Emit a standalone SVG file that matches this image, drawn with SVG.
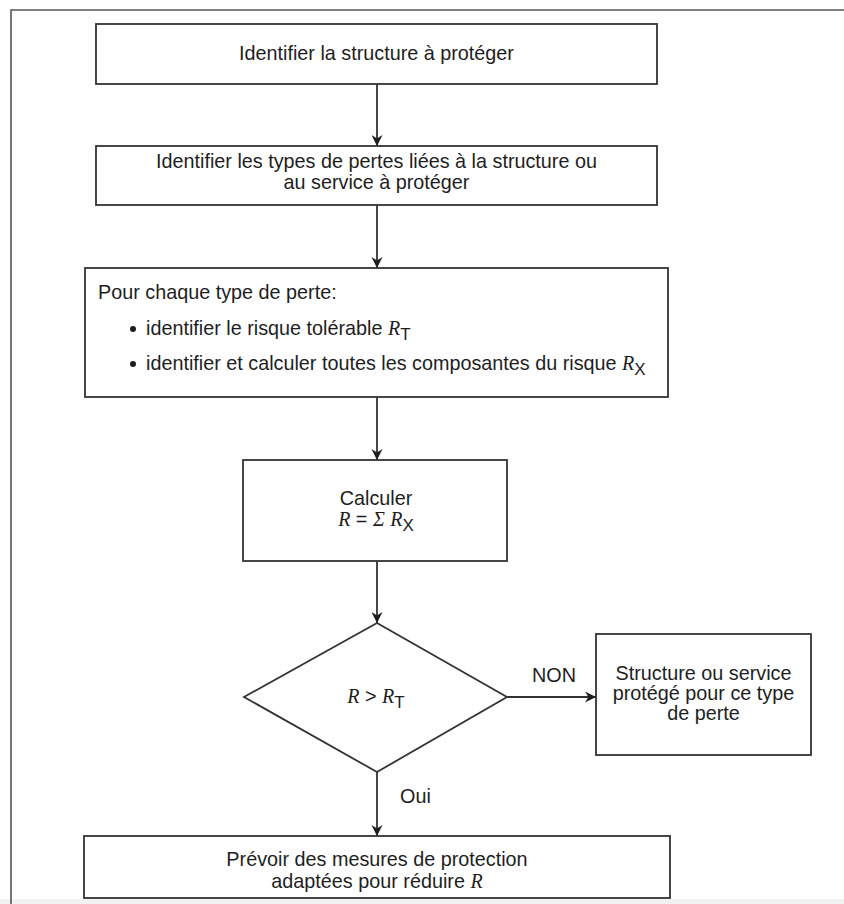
<svg xmlns="http://www.w3.org/2000/svg" width="844" height="904" viewBox="0 0 844 904">
<defs>
<style>
.box{fill:#fff;stroke:#333;stroke-width:1.8}
.t{font-family:"Liberation Sans",Arial,sans-serif;font-size:19.8px;fill:#1e1e1e}
.c{text-anchor:middle}
.m{font-family:"Liberation Serif","Times New Roman",serif;font-style:italic;font-size:20px}
.s{font-family:"Liberation Sans",Arial,sans-serif;font-style:normal;font-size:17px}
.edge{stroke:#333;stroke-width:1.8;fill:none;marker-end:url(#arr)}
</style>
<marker id="arr" viewBox="0 0 11 11" refX="11" refY="5.5" markerWidth="11" markerHeight="11" markerUnits="userSpaceOnUse" orient="auto">
<path d="M0,0 L11,5.5 L0,11 L3.5,5.5 Z" fill="#1e1e1e"/>
</marker>
</defs>
<rect x="0" y="0" width="844" height="904" fill="#fff"/>
<rect x="0" y="899" width="844" height="5" fill="#f2f2f2"/>
<path d="M11,904 V10 H844" fill="none" stroke="#555" stroke-width="1.6"/>

<g id="connectors">
<line class="edge" x1="377" y1="84" x2="377" y2="146"/>
<line class="edge" x1="377" y1="205" x2="377" y2="268"/>
<line class="edge" x1="377" y1="397" x2="377" y2="460"/>
<line class="edge" x1="377" y1="561" x2="377" y2="623"/>
<line class="edge" x1="377" y1="772" x2="377" y2="836"/>
<line class="edge" x1="507" y1="697" x2="596" y2="697"/>
<text class="t" x="532" y="682" font-size="18">NON</text>
<text class="t" x="400" y="803" font-size="18">Oui</text>
</g>

<g id="n1">
<rect class="box" x="96" y="24" width="561" height="60"/>
<text class="t c" x="376.5" y="60">Identifier la structure à protéger</text>
</g>

<g id="n2">
<rect class="box" x="96" y="146" width="561" height="59"/>
<text class="t c" x="376.5" y="168">Identifier les types de pertes liées à la structure ou</text>
<text class="t c" x="376.5" y="189">au service à protéger</text>
</g>

<g id="n3">
<rect class="box" x="85" y="268" width="583" height="129"/>
<text class="t" x="98" y="299">Pour chaque type de perte:</text>
<circle cx="133" cy="329" r="3" fill="#1e1e1e"/>
<text class="t" x="146" y="335">identifier le risque tolérable <tspan class="m">R</tspan><tspan class="s" dy="5">T</tspan></text>
<circle cx="133" cy="364" r="3" fill="#1e1e1e"/>
<text class="t" x="146" y="370">identifier et calculer toutes les composantes du risque <tspan class="m">R</tspan><tspan class="s" dy="5">X</tspan></text>
</g>

<g id="n4">
<rect class="box" x="243" y="460" width="264" height="101"/>
<text class="t c" x="376" y="505">Calculer</text>
<text class="t c" x="376" y="526"><tspan class="m">R</tspan> = <tspan class="m" font-style="normal">Σ</tspan> <tspan class="m">R</tspan><tspan class="s" dy="5">X</tspan></text>
</g>

<g id="n5">
<polygon class="box" points="377,623 507,697 377,772 244,697"/>
<text class="t c" x="376" y="703"><tspan class="m">R</tspan> &gt; <tspan class="m">R</tspan><tspan class="s" dy="5">T</tspan></text>
</g>

<g id="n6">
<rect class="box" x="596" y="634" width="215" height="121"/>
<text class="t c" x="703.5" y="680">Structure ou service</text>
<text class="t c" x="703.5" y="700">protégé pour ce type</text>
<text class="t c" x="703.5" y="720">de perte</text>
</g>

<g id="n7">
<rect class="box" x="84" y="836" width="586" height="62"/>
<text class="t c" x="377" y="866">Prévoir des mesures de protection</text>
<text class="t c" x="377" y="888">adaptées pour réduire <tspan class="m">R</tspan></text>
</g>
</svg>
